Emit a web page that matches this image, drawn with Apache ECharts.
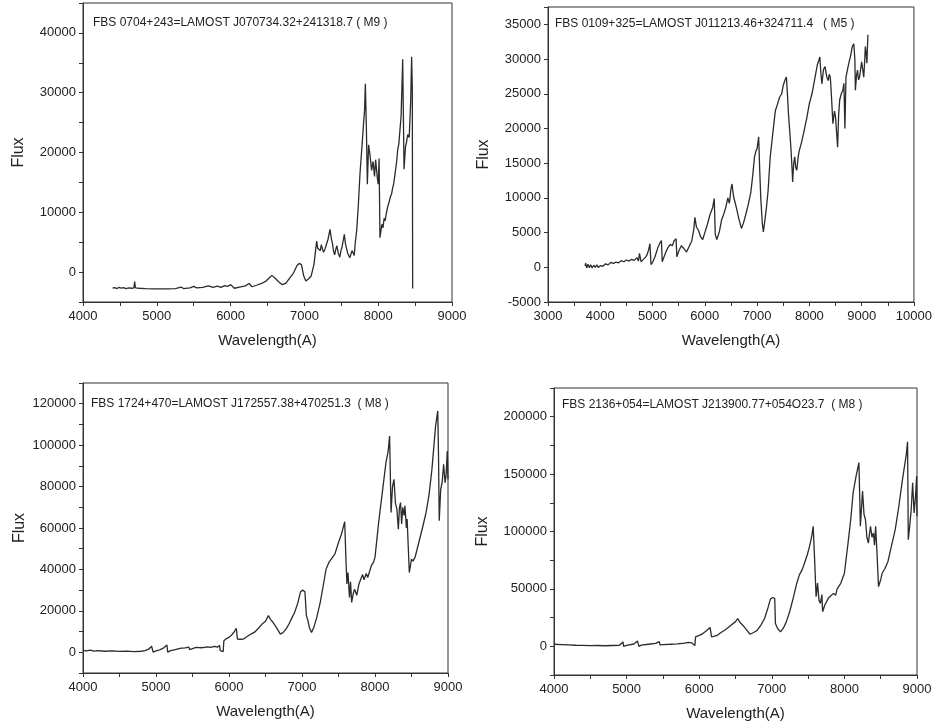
<!DOCTYPE html>
<html>
<head>
<meta charset="utf-8">
<script src="https://cdn.jsdelivr.net/npm/echarts@6/dist/echarts.min.js"></script>
<style>
  html, body { margin: 0; padding: 0; background: #fff; }
  #chart { width: 935px; height: 728px; }
</style>
</head>
<body>
<div id="chart"></div>
<script>
// Spectrum labels
const titles = [
  'FBS 0704+243=LAMOST J070734.32+241318.7 ( M9 )',
  'FBS 0109+325=LAMOST J011213.46+324711.4   ( M5 )',
  'FBS 1724+470=LAMOST J172557.38+470251.3  ( M8 )',
  'FBS 2136+054=LAMOST J213900.77+054O23.7  ( M8 )'
];

// FBS 0704+243 (M9): wavelength (A) and flux
const waveM9 = [4400,4430,4460,4490,4520,4550,4580,4620,4660,4690,4700,4710,4760,4850,4950,5050,5150,5250,5330,5360,5450,5500,5540,5620,5700,5760,5820,5870,5920,5960,6000,6050,6120,6200,6250,6290,6350,6420,6480,6530,6560,6600,6650,6700,6750,6800,6850,6900,6930,6960,6990,7020,7050,7090,7130,7166,7180,7200,7215,7230,7245,7260,7280,7300,7320,7347,7365,7380,7395,7410,7425,7440,7460,7480,7495,7510,7525,7541,7555,7570,7585,7600,7615,7627,7645,7660,7675,7690,7708,7730,7753,7780,7798,7815,7826,7840,7853,7870,7890,7910,7930,7950,7965,7980,7990,8000,8012,8024,8050,8065,8080,8095,8110,8130,8150,8165,8180,8195,8210,8230,8250,8265,8280,8295,8310,8332,8350,8370,8385,8400,8420,8440,8453,8462,8467];
const fluxM9 = [-2700,-2600,-2750,-2550,-2700,-2600,-2750,-2650,-2700,-2650,-1600,-2650,-2700,-2750,-2800,-2800,-2800,-2750,-2500,-2750,-2650,-2400,-2650,-2550,-2300,-2550,-2350,-2550,-2250,-2400,-2100,-2700,-2500,-2300,-1900,-2450,-2200,-1900,-1500,-900,-550,-1000,-1600,-2100,-1850,-1000,-200,1100,1450,1250,-600,-1500,-1200,-700,1300,5200,4000,4300,3600,4600,3800,3300,3900,4200,5500,7150,5600,4800,3500,2900,3800,4400,3100,2500,3600,4200,5200,6300,4800,4000,3200,3000,2400,2700,3600,3400,2800,5000,6900,11000,16400,21000,24200,27000,31500,24000,14700,21300,19500,17000,18500,16000,18800,19100,15500,14700,19000,5750,8000,7400,9000,8600,9800,11000,11800,12600,13000,14000,14800,16600,18500,20500,21500,23800,26000,35600,17200,21000,21800,23000,22500,28500,36000,31000,-2730];

// FBS 0109+325 (M5)
const waveM5 = [3710,3720,3730,3740,3750,3765,3780,3790,3800,3815,3830,3845,3860,3875,3890,3905,3920,3935,3950,3965,3980,4000,4025,4050,4075,4100,4125,4150,4175,4200,4250,4300,4350,4400,4450,4500,4550,4600,4650,4700,4730,4750,4780,4820,4870,4900,4930,4950,4970,5000,5050,5100,5140,5170,5185,5220,5260,5300,5340,5380,5410,5450,5465,5500,5550,5600,5650,5700,5750,5790,5810,5840,5880,5920,5960,6000,6050,6100,6150,6180,6200,6230,6280,6320,6360,6400,6440,6470,6500,6520,6550,6600,6650,6700,6740,6780,6830,6880,6920,6950,6980,7000,7030,7050,7070,7100,7120,7150,7180,7210,7250,7300,7350,7390,7430,7470,7500,7530,7560,7580,7600,7630,7650,7670,7680,7700,7720,7740,7760,7780,7800,7850,7900,7950,8000,8050,8100,8150,8180,8200,8220,8240,8270,8300,8330,8360,8380,8400,8420,8450,8480,8500,8520,8540,8560,8580,8610,8640,8660,8680,8700,8730,8760,8790,8820,8850,8870,8880,8900,8920,8940,8960,8980,9000,9020,9040,9060,9070,9090,9100,9110,9120];
const fluxM5 = [200,600,500,-100,-100,450,400,-50,0,350,350,-100,-50,300,300,0,100,350,250,-50,0,250,400,150,350,500,250,350,600,700,550,750,650,950,800,1050,900,1150,1000,1400,900,2000,800,1100,1500,1900,2700,3400,400,700,1600,2800,3500,3850,800,1500,2300,2900,3300,3100,3800,4100,1500,2300,3100,2700,2200,3000,3800,5500,7200,5800,5300,4400,4000,5000,6200,7600,8600,9900,4700,4000,5200,6800,7600,8600,10000,9200,11300,12000,10200,8700,7000,5600,6400,7500,9000,10800,13500,15900,16800,17100,18800,14000,10000,6300,5100,6800,8700,11000,15800,19300,22600,23500,24500,25000,26200,26900,27400,25000,22100,19000,16800,14000,12300,15000,15900,14300,14000,15500,16600,18000,19700,21500,23600,25000,27000,29100,29800,30300,28000,26400,28500,28900,27500,26900,27800,27400,25000,20700,22500,21700,19500,17300,22000,24100,25000,25500,26500,20000,27400,28500,29600,30500,31800,32200,30000,25500,27500,28400,27000,27400,28500,29600,28500,27400,30000,31800,30500,29400,31500,33500];

// FBS 1724+470 (M8)
const waveM8a = [4000,4050,4100,4150,4200,4300,4400,4500,4600,4700,4800,4850,4900,4940,4960,5000,5050,5100,5150,5160,5200,5250,5300,5350,5400,5450,5460,5500,5550,5600,5650,5700,5750,5800,5840,5870,5880,5900,5920,5930,5960,6000,6040,6070,6100,6115,6150,6200,6250,6300,6350,6400,6450,6500,6540,6570,6600,6640,6680,6700,6740,6780,6820,6860,6900,6940,6980,7010,7040,7060,7080,7100,7130,7160,7200,7250,7290,7330,7370,7400,7450,7500,7540,7570,7585,7600,7615,7630,7650,7665,7680,7700,7720,7750,7780,7800,7830,7850,7880,7900,7930,7950,7980,8000,8050,8100,8150,8180,8200,8220,8240,8260,8280,8300,8320,8335,8350,8365,8380,8400,8410,8430,8440,8470,8500,8520,8550,8600,8650,8700,8740,8780,8830,8860,8870,8880,8900,8920,8940,8960,8975,8990,9000];
const fluxM8a = [900,700,1000,600,800,500,700,400,600,300,500,800,1500,2900,100,700,1200,2000,3500,100,800,1200,1600,2000,2100,2500,1300,1800,2400,2200,2300,2600,2400,2900,2500,3300,800,1500,300,5600,6500,7200,8500,9800,11600,6400,6300,6400,7600,8800,9700,11500,13500,15000,17700,15800,14600,12500,10200,8800,9500,11200,13500,16500,19300,23500,29200,30000,29200,17700,15500,12000,9600,11800,16500,24100,32000,40200,43500,45000,47400,53000,57000,61000,63000,46600,33000,38500,26500,34000,24100,28000,30500,27500,33000,32900,37500,35000,38000,36100,39500,41800,43500,45800,62700,77100,91600,97000,104400,67500,80000,83500,72000,69100,59400,70000,72300,62000,70000,66000,70700,60000,64300,38500,45000,44000,46000,53000,60000,67500,76000,88400,109300,116500,95000,63500,78700,82000,90800,81900,86000,97200,83500];

// FBS 2136+054 (M8)
const waveM8b = [4000,4100,4200,4300,4400,4500,4600,4700,4800,4900,4950,4960,5000,5100,5150,5170,5200,5300,5400,5450,5460,5500,5600,5700,5800,5850,5900,5940,5950,6000,6050,6100,6150,6170,6200,6250,6300,6350,6400,6450,6500,6530,6560,6600,6650,6700,6750,6800,6850,6900,6940,6980,7010,7040,7050,7080,7120,7160,7200,7250,7300,7340,7380,7420,7450,7490,7520,7550,7570,7590,7610,7630,7650,7670,7690,7700,7730,7750,7780,7800,7850,7880,7900,7950,8000,8050,8090,8120,8160,8200,8220,8235,8250,8270,8290,8310,8330,8350,8360,8380,8400,8415,8430,8450,8470,8500,8520,8560,8600,8650,8700,8750,8800,8850,8870,8880,8900,8920,8940,8960,8980,8995,9000];
const fluxM8b = [1800,1500,1200,900,800,600,700,500,700,900,3800,0,900,2000,4700,0,1000,1800,2500,4100,1200,1500,1800,2200,2800,3500,2900,600,8200,9500,11100,13500,16400,8200,8700,9600,12000,14000,16400,19000,21500,24200,21000,18400,14500,10500,12000,14000,18500,24200,32000,40900,42500,41800,19900,15500,12600,16000,21300,31000,43200,54000,62200,67000,72400,80000,87000,96000,104500,75300,43200,55000,40000,37400,45000,30100,36000,37400,42000,40500,46100,44500,50000,54900,63600,89900,112000,133700,148000,160000,104500,120000,135200,115000,110400,95000,89900,100000,104500,95000,98700,88000,104500,80000,52000,58000,63600,68000,73900,88000,101600,122000,145400,165800,178100,92800,105000,119100,142500,116200,130800,148300,113300];

// Axis ranges and label steps per panel
const xRanges = [[4000, 9000], [3000, 10000], [4000, 9000], [4000, 9000]];
const yRanges = [[-5000, 45000], [-5000, 37500], [-10000, 130000], [-25000, 225000]];
const yTickSteps = [5000, 5000, 10000, 25000];
const yLabelSteps = [10000, 5000, 20000, 50000];
const yLabelMin = [0, -5000, 0, 0];
const yLabelMax = [40000, 35000, 120000, 200000];

const panels = [[waveM9, fluxM9], [waveM5, fluxM5], [waveM8a, fluxM8a], [waveM8b, fluxM8b]];

// Layout of the four plot frames
const grids = [
  { left: 83, top: 3, width: 369, height: 299 },
  { left: 548, top: 7, width: 368, height: 295 },
  { left: 83, top: 383, width: 365, height: 290 },
  { left: 554, top: 388, width: 363, height: 287 }
];
const titlePos = [[93, 17], [555, 18], [91, 398], [562, 399]];
const yNameGaps = [56, 56, 55, 63];

const FONT = '"Liberation Sans", Arial, sans-serif';
const ink = '#222';

const chart = echarts.init(document.getElementById('chart'), null, { renderer: 'canvas' });

const option = {
  animation: false,
  backgroundColor: '#ffffff',
  title: titles.map((t, i) => ({
    text: t,
    left: titlePos[i][0],
    top: titlePos[i][1],
    padding: 0,
    textStyle: { fontFamily: FONT, fontSize: 12, fontWeight: 'normal', color: ink }
  })),
  grid: grids.map(g => Object.assign({ show: true, borderColor: '#333', borderWidth: 1, backgroundColor: 'transparent' }, g)),
  xAxis: xRanges.map((r, i) => ({
    type: 'value',
    gridIndex: i,
    min: r[0],
    max: r[1],
    interval: 500,
    name: 'Wavelength(A)',
    nameLocation: 'middle',
    nameGap: 31,
    nameTextStyle: { fontFamily: FONT, fontSize: 15, color: ink },
    axisLine: { show: true, onZero: false, lineStyle: { color: '#333', width: 1 } },
    axisTick: { show: true, inside: false, length: 4, lineStyle: { color: '#333' } },
    axisLabel: {
      margin: 8,
      fontFamily: FONT, fontSize: 13, color: ink,
      formatter: v => (v % 1000 === 0 ? String(v) : '')
    },
    splitLine: { show: false }
  })),
  yAxis: yRanges.map((r, i) => ({
    type: 'value',
    gridIndex: i,
    min: r[0],
    max: r[1],
    interval: yTickSteps[i],
    name: 'Flux',
    nameLocation: 'middle',
    nameGap: yNameGaps[i],
    nameTextStyle: { fontFamily: FONT, fontSize: 16, color: ink },
    axisLine: { show: true, onZero: false, lineStyle: { color: '#333', width: 1 } },
    axisTick: { show: true, inside: false, length: 4, lineStyle: { color: '#333' } },
    axisLabel: {
      margin: 7,
      fontFamily: FONT, fontSize: 13, color: ink,
      formatter: v => {
        if (v < yLabelMin[i] || v > yLabelMax[i]) return '';
        if (v % yLabelSteps[i] !== 0) return '';
        return String(v);
      }
    },
    splitLine: { show: false }
  })),
  series: panels.map((p, i) => ({
    type: 'line',
    xAxisIndex: i,
    yAxisIndex: i,
    data: p[0].map((w, k) => [w, p[1][k]]),
    showSymbol: false,
    symbol: 'none',
    lineStyle: { color: '#2b2b2b', width: 1.3 },
    silent: true
  }))
};

chart.setOption(option);
</script>
</body>
</html>
